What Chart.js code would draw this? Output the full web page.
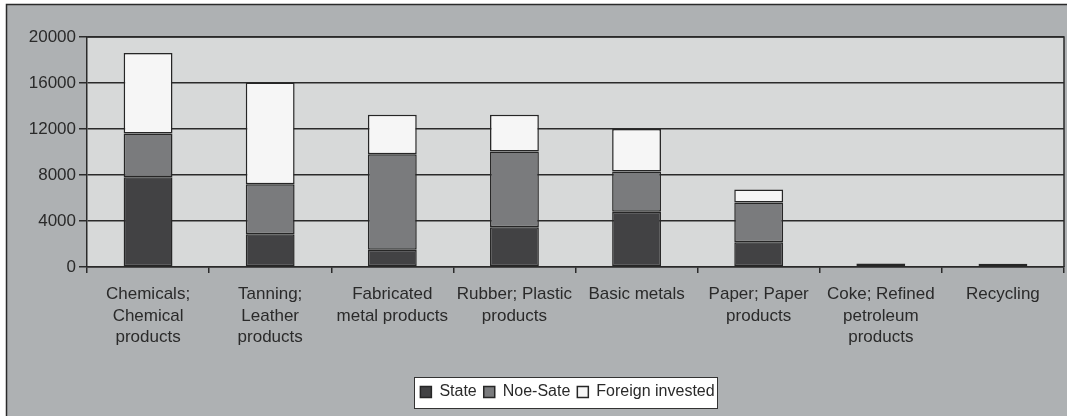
<!DOCTYPE html>
<html>
<head>
<meta charset="utf-8">
<script src="https://cdn.jsdelivr.net/npm/chart.js@4/dist/chart.umd.min.js"></script>
<style>
  html, body { margin: 0; padding: 0; background: #fff; }
  #wrap { width: 1067px; height: 416px; }
</style>
</head>
<body>
<div id="wrap"><canvas id="grafico" width="1067" height="416"></canvas></div>
<script>
// Categorias (etiquetas en varias lineas)
const categorias = [
  ['Chemicals;', 'Chemical', 'products'],
  ['Tanning;', 'Leather', 'products'],
  ['Fabricated', 'metal products'],
  ['Rubber; Plastic', 'products'],
  ['Basic metals'],
  ['Paper; Paper', 'products'],
  ['Coke; Refined', 'petroleum', 'products'],
  ['Recycling']
];

// Valores
const estatal    = [7800, 2850, 1500, 3450, 4800, 2150, 300, 0];
const noEstatal  = [3800, 4350, 8300, 6600, 3500, 3450, 0, 280];
const extranjero = [7000, 8850, 3450, 3200, 3700, 1150, 0, 0];

const ticksY = [0, 4000, 8000, 12000, 16000, 20000];

const textoColor = '#2a2a2a';
const fuente = { family: "'Liberation Sans', Arial, sans-serif", size: 17 };

// Fondo, borde exterior, borde del area de trazado y caja de la leyenda
const marcoPlugin = {
  id: 'marco',
  afterLayout(chart) {
    // la leyenda del original esta centrada sobre el area de trazado
    const lg = chart.legend;
    const desplaz = 32;
    lg.left += desplaz;
    lg.right += desplaz;
    lg.top += 1;
    lg.bottom += 1;
  },
  beforeDraw(chart) {
    const { ctx, chartArea: a } = chart;
    ctx.save();
    ctx.fillStyle = '#ffffff';
    ctx.fillRect(0, 0, chart.width, chart.height);
    ctx.fillStyle = '#aeb1b3';
    ctx.fillRect(6, 4, chart.width - 6, chart.height - 4);
    ctx.strokeStyle = '#2a2a2a';
    ctx.lineWidth = 1.5;
    ctx.beginPath();
    ctx.moveTo(6.5, chart.height);
    ctx.lineTo(6.5, 4.5);
    ctx.lineTo(chart.width, 4.5);
    ctx.stroke();
    ctx.fillStyle = '#d7d9d9';
    ctx.fillRect(a.left, a.top, a.right - a.left, a.bottom - a.top);

    const lg = chart.legend;
    if (lg && lg.legendHitBoxes && lg.legendHitBoxes.length) {
      const hb = lg.legendHitBoxes;
      const x0 = Math.min(...hb.map(h => h.left)) - 6;
      const x1 = Math.max(...hb.map(h => h.left + h.width)) + 3;
      const y0 = Math.min(...hb.map(h => h.top)) - 7;
      const y1 = Math.max(...hb.map(h => h.top + h.height)) + 8;
      ctx.fillStyle = '#ffffff';
      ctx.fillRect(x0, y0, x1 - x0, y1 - y0);
      ctx.strokeStyle = '#333333';
      ctx.lineWidth = 1;
      ctx.strokeRect(Math.round(x0) + 0.5, Math.round(y0) + 0.5, Math.round(x1 - x0), Math.round(y1 - y0));
    }
    ctx.restore();
  },
  afterDatasetsDraw(chart) {
    const { ctx, chartArea: a } = chart;
    ctx.save();
    ctx.strokeStyle = '#2a2a2a';
    ctx.lineWidth = 1.5;
    ctx.beginPath();
    ctx.moveTo(a.left, a.top);
    ctx.lineTo(a.right, a.top);
    ctx.lineTo(a.right, a.bottom);
    ctx.stroke();
    ctx.restore();
  }
};

function serie(label, data, color) {
  return {
    label,
    data,
    backgroundColor: color,
    borderColor: '#262626',
    borderWidth: 1.5,
    borderSkipped: false,
    barPercentage: 0.4,
    categoryPercentage: 1.0
  };
}

new Chart(document.getElementById('grafico'), {
  type: 'bar',
  data: {
    labels: categorias,
    datasets: [
      serie('State', estatal, '#424244'),
      serie('Noe-Sate', noEstatal, '#7a7b7d'),
      serie('Foreign invested', extranjero, '#f6f6f6')
    ]
  },
  options: {
    responsive: false,
    animation: false,
    layout: { padding: { left: 7, right: 3, top: 37, bottom: 7 } },
    plugins: {
      tooltip: { enabled: false },
      legend: {
        position: 'bottom',
        labels: {
          color: textoColor,
          font: { ...fuente, size: 16 },
          boxWidth: 11,
          boxHeight: 11,
          padding: 7,
          useBorderRadius: false
        }
      }
    },
    scales: {
      x: {
        stacked: true,
        afterFit: s => { s.height = 109; },
        grid: {
          offset: true,
          drawOnChartArea: false,
          drawTicks: true,
          tickLength: 6,
          color: '#2a2a2a',
          lineWidth: 1.5
        },
        border: { color: '#2a2a2a', width: 1.5 },
        ticks: {
          color: textoColor,
          font: { ...fuente, lineHeight: 1.25 },
          maxRotation: 0,
          autoSkip: false,
          padding: 11
        }
      },
      y: {
        stacked: true,
        min: 0,
        max: 20000,
        afterFit: s => { s.width = 80; },
        afterBuildTicks: s => { s.ticks = ticksY.map(v => ({ value: v })); },
        grid: {
          color: '#2a2a2a',
          lineWidth: 1.5,
          tickLength: 8
        },
        border: { color: '#2a2a2a', width: 1.5 },
        ticks: {
          color: textoColor,
          font: fuente,
          padding: 3,
          callback: v => String(v)
        }
      }
    }
  },
  plugins: [marcoPlugin]
});
</script>
</body>
</html>
